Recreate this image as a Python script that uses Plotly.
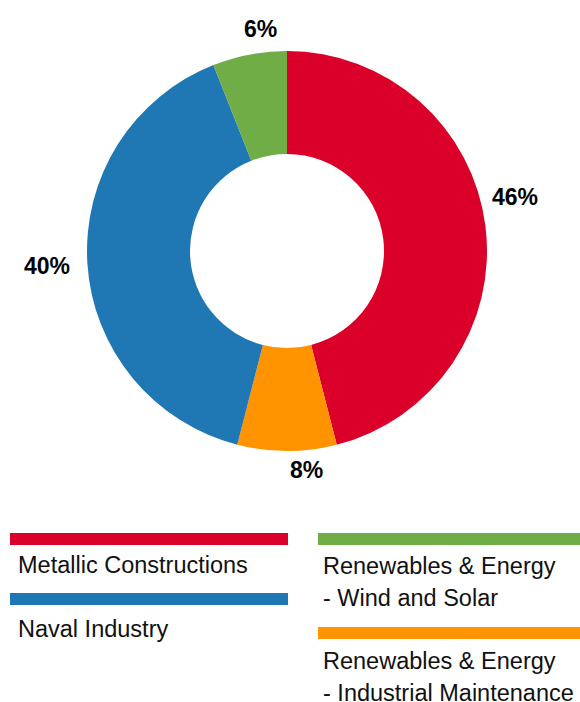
import math
import plotly.graph_objects as go

# ---- data ----
labels = ["Metallic Constructions", "Renewables & Energy - Industrial Maintenance",
          "Naval Industry", "Renewables & Energy - Wind and Solar"]
values = [46, 8, 40, 6]
colors = ["#DA0029", "#FF9300", "#1F77B4", "#70AD47"]

legend_lines = {
    "Metallic Constructions": ["Metallic Constructions"],
    "Naval Industry": ["Naval Industry"],
    "Renewables & Energy - Wind and Solar": ["Renewables & Energy", "- Wind and Solar"],
    "Renewables & Energy - Industrial Maintenance": ["Renewables & Energy", "- Industrial Maintenance"],
}

# ---- layout constants (page pixels) ----
W, H = 580, 702
cx, cy, R = 287, 251, 200
FONT = "Liberation Sans, Arial, sans-serif"

def px(x):
    return x / W

def py(y):
    return 1 - y / H

fig = go.Figure(go.Pie(
    labels=labels, values=values, sort=False, direction="clockwise", rotation=0,
    hole=0.485, marker=dict(colors=colors, line=dict(width=0)),
    textinfo="none", showlegend=False, hoverinfo="label+percent",
    domain=dict(x=[px(cx - R), px(cx + R)], y=[py(cy + R), py(cy - R)]),
))

# ---- percent labels, placed outside each slice from its share ----
label_nudge = [-6, -5, 0, 4]     # degrees
label_gap = [10, 10, 17, 13]     # px beyond the outer edge
label_size = 23
annots = []
total = sum(values)
cum = 0
for v, nd, gap in zip(values, label_nudge, label_gap):
    frac = v / total
    mid = (cum + frac / 2) * 360 + nd
    cum += frac
    txt = f"{round(frac * 100)}%"
    hw = 0.5 * label_size * (0.556 * (len(txt) - 1) + 0.889)
    hh = 0.36 * label_size
    a = math.radians(mid)
    s, c = math.sin(a), math.cos(a)
    ext = abs(s) * hw + abs(c) * hh
    r = R + gap + ext
    annots.append(dict(text=f"<b>{txt}</b>", xref="paper", yref="paper",
                       x=px(cx + r * s), y=py(cy - r * c), xanchor="center", yanchor="middle",
                       showarrow=False, font=dict(family=FONT, size=label_size, color="#000000")))

# ---- custom legend ----
slots = {
    "Metallic Constructions": (10, 288, 533, 16, 565),
    "Naval Industry": (10, 288, 593, 16, 629),
    "Renewables & Energy - Wind and Solar": (318, 580, 533, 321, 566),
    "Renewables & Energy - Industrial Maintenance": (318, 580, 627, 321, 661),
}
shapes = []
for lab, col in zip(labels, colors):
    x0, x1, by, tx, ty = slots[lab]
    shapes.append(dict(type="rect", xref="paper", yref="paper",
                       x0=px(x0), x1=px(x1), y0=py(by + 12), y1=py(by),
                       fillcolor=col, line=dict(width=0)))
    for i, line in enumerate(legend_lines[lab]):
        annots.append(dict(text=line, xref="paper", yref="paper", x=px(tx),
                           y=py(ty + 32 * i), xanchor="left", yanchor="middle",
                           showarrow=False,
                           font=dict(family=FONT, size=23.5, color="#111111")))

fig.update_layout(width=W, height=H, margin=dict(l=0, r=0, t=0, b=0),
                  paper_bgcolor="white", plot_bgcolor="white",
                  shapes=shapes, annotations=annots)
fig.write_html("out.html", config={"displayModeBar": False},
               post_script="document.body.style.margin='0';document.body.style.overflow='hidden';")
